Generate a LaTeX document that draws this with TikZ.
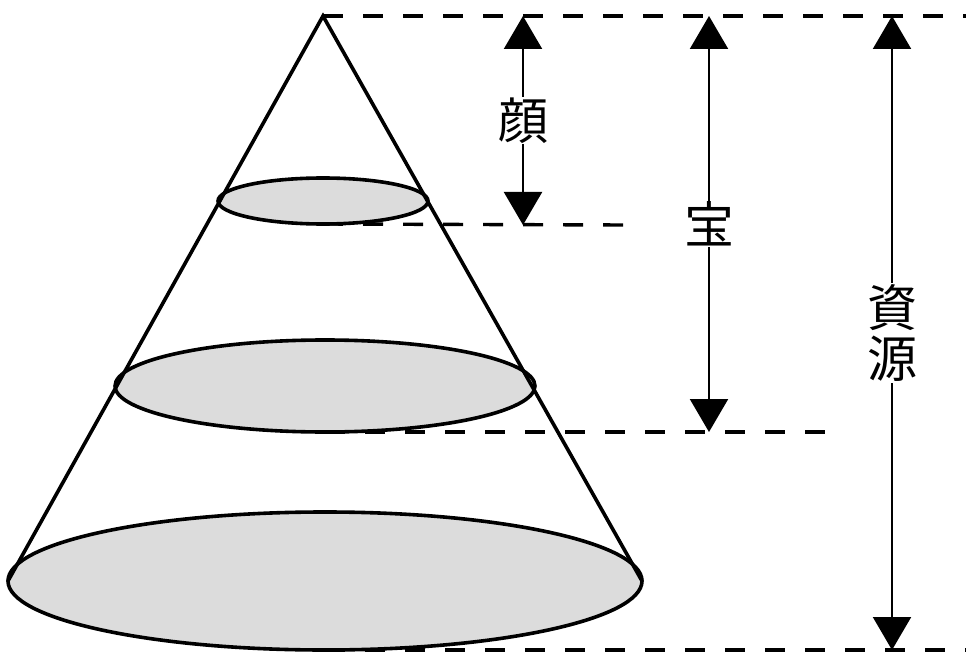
\documentclass[tikz,border=0pt]{standalone}
\usepackage{fontspec}
\newfontfamily\cjk{Noto Sans CJK JP}
\usetikzlibrary{arrows.meta,shapes.geometric}
\definecolor{diskgray}{HTML}{DCDCDC}
\begin{document}
\begin{tikzpicture}[x=1pt,y=-1pt,
 disk/.style={ellipse, draw, line width=3.6pt, fill=diskgray, inner sep=0pt, outer sep=0pt},
 guide/.style={line width=3.4pt, dash pattern=on 20pt off 20pt},
 cone/.style={line width=3.6pt},
 dim/.style={line width=2.2pt, {Triangle[width=38pt,length=33pt]}-{Triangle[width=38pt,length=33pt]}},
 lbl/.style={fill=white, inner sep=1pt, font=\cjk\fontsize{50}{51}\selectfont, align=center}]
\useasboundingbox (0,0) rectangle (966,660);

% positions of disks
\coordinate (apex) at (323,16);
\coordinate (topc) at (323,201);
\coordinate (midc) at (325,386);
\coordinate (basec) at (325,581);

% guide line ends
\coordinate (g0) at (966,16);
\coordinate (g1) at (625,225);
\coordinate (g2) at (840,432);
\coordinate (g3) at (966,650);

% dimension arrow ends
\coordinate (a1t) at (523,16);
\coordinate (a1b) at (523,225);
\coordinate (a2t) at (709,16);
\coordinate (a2b) at (709,432);
\coordinate (a3t) at (892,16);
\coordinate (a3b) at (892,650);

% guide lines (behind disks)
\draw[guide] (apex) -- (g0);
\draw[guide] (323,224) -- (g1);
\draw[guide] (325,432) -- (g2);
\draw[guide] (325,650) -- (g3);

% disks
\node[disk, minimum width=210pt, minimum height=46pt] (top) at (topc) {};
\node[disk, minimum width=420pt, minimum height=92pt] (mid) at (midc) {};
\node[disk, minimum width=634pt, minimum height=138pt] (base) at (basec) {};

% cone sides
\draw[cone] (base.west) -- (apex) -- (base.east);

% dimension arrows
\draw[dim] (a1t) -- node[lbl] (l1) {顔} (a1b);
\draw[dim] (a2t) -- node[lbl] (l2) {宝} (a2b);
\draw[dim] (a3t) -- node[lbl] (l3) {資\\源} (a3b);
\end{tikzpicture}
\end{document}
